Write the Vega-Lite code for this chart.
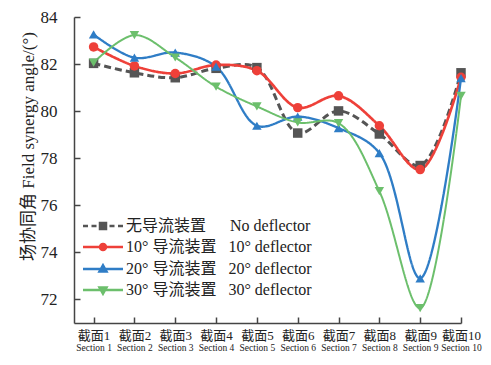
{
  "$schema": "https://vega.github.io/schema/vega-lite/v6.json",
  "width": 387,
  "height": 306,
  "autosize": {"type": "none"},
  "padding": {"left": 74, "top": 17, "right": 30, "bottom": 42},
  "background": "white",
  "config": {"view": {"stroke": null}, "font": "Liberation Serif, Noto Sans CJK SC"},
  "data": {
    "values": [
      {"section": 1, "series": "No deflector", "value": 82.03},
      {"section": 2, "series": "No deflector", "value": 81.63},
      {"section": 3, "series": "No deflector", "value": 81.42},
      {"section": 4, "series": "No deflector", "value": 81.82},
      {"section": 5, "series": "No deflector", "value": 81.85},
      {"section": 6, "series": "No deflector", "value": 79.07},
      {"section": 7, "series": "No deflector", "value": 80.01},
      {"section": 8, "series": "No deflector", "value": 79.03},
      {"section": 9, "series": "No deflector", "value": 77.69},
      {"section": 10, "series": "No deflector", "value": 81.63},
      {"section": 1, "series": "10° deflector", "value": 82.73},
      {"section": 2, "series": "10° deflector", "value": 81.92},
      {"section": 3, "series": "10° deflector", "value": 81.6},
      {"section": 4, "series": "10° deflector", "value": 81.96},
      {"section": 5, "series": "10° deflector", "value": 81.72},
      {"section": 6, "series": "10° deflector", "value": 80.15},
      {"section": 7, "series": "10° deflector", "value": 80.65},
      {"section": 8, "series": "10° deflector", "value": 79.38},
      {"section": 9, "series": "10° deflector", "value": 77.52},
      {"section": 10, "series": "10° deflector", "value": 81.44},
      {"section": 1, "series": "20° deflector", "value": 83.26},
      {"section": 2, "series": "20° deflector", "value": 82.27},
      {"section": 3, "series": "20° deflector", "value": 82.49},
      {"section": 4, "series": "20° deflector", "value": 81.89},
      {"section": 5, "series": "20° deflector", "value": 79.38},
      {"section": 6, "series": "20° deflector", "value": 79.77},
      {"section": 7, "series": "20° deflector", "value": 79.28},
      {"section": 8, "series": "20° deflector", "value": 78.22},
      {"section": 9, "series": "20° deflector", "value": 72.9},
      {"section": 10, "series": "20° deflector", "value": 81.4},
      {"section": 1, "series": "30° deflector", "value": 82.06},
      {"section": 2, "series": "30° deflector", "value": 83.23},
      {"section": 3, "series": "30° deflector", "value": 82.28},
      {"section": 4, "series": "30° deflector", "value": 81.04},
      {"section": 5, "series": "30° deflector", "value": 80.2},
      {"section": 6, "series": "30° deflector", "value": 79.52},
      {"section": 7, "series": "30° deflector", "value": 79.49},
      {"section": 8, "series": "30° deflector", "value": 76.6},
      {"section": 9, "series": "30° deflector", "value": 71.63},
      {"section": 10, "series": "30° deflector", "value": 80.65}
    ]
  },
  "layer": [
    {
      "mark": {"type": "line", "interpolate": "catmull-rom"},
      "encoding": {
        "x": {
          "field": "section", "type": "quantitative",
          "scale": {"domain": [0.52, 10], "nice": false, "zero": false},
          "axis": {
            "orient": "bottom", "values": [1, 2, 3, 4, 5, 6, 7, 8, 9, 10],
            "labelExpr": "'截面' + datum.value",
            "labelFontSize": 13, "labelColor": "#222",
            "tickSize": -6, "tickColor": "#444", "tickWidth": 1.5,
            "domainColor": "#444", "domainWidth": 1.5,
            "labelPadding": 12, "grid": false, "title": null,
            "labelFlush": false, "labelOverlap": false
          }
        },
        "y": {
          "field": "value", "type": "quantitative",
          "scale": {"domain": [71, 84], "nice": false, "zero": false},
          "axis": {
            "values": [72, 74, 76, 78, 80, 82, 84],
            "labelFontSize": 17, "labelColor": "#222",
            "tickSize": -6, "tickColor": "#444", "tickWidth": 1.5,
            "domainColor": "#444", "domainWidth": 1.5,
            "labelPadding": 23, "grid": false,
            "title": "场协同角 Field synergy angle/(°)",
            "titleFontSize": 17, "titleFontWeight": "normal", "titleColor": "#222",
            "titlePadding": 3, "titleY": 129
          }
        },
        "color": {
          "field": "series", "type": "nominal",
          "scale": {"domain": ["No deflector", "10° deflector", "20° deflector", "30° deflector"], "range": ["#555555", "#EE4039", "#2F7DC6", "#6CBF6C"]},
          "legend": null
        },
        "strokeDash": {
          "field": "series", "type": "nominal",
          "scale": {"domain": ["No deflector", "10° deflector", "20° deflector", "30° deflector"], "range": [[7, 4], [1, 0], [1, 0], [1, 0]]},
          "legend": null
        },
        "strokeWidth": {
          "field": "series", "type": "nominal",
          "scale": {"domain": ["No deflector", "10° deflector", "20° deflector", "30° deflector"], "range": [3, 2, 2, 2]},
          "legend": null
        }
      }
    },
    {
      "mark": {"type": "point", "filled": true, "size": 90, "opacity": 1},
      "encoding": {
        "x": {
          "field": "section", "type": "quantitative",
          "axis": {
            "orient": "bottom", "values": [1, 2, 3, 4, 5, 6, 7, 8, 9, 10],
            "labelExpr": "'Section ' + datum.value",
            "labelFontSize": 9.5, "labelColor": "#222",
            "domain": false, "ticks": false, "labelPadding": 19,
            "grid": false, "title": null, "labelFlush": false, "labelOverlap": false
          }
        },
        "y": {"field": "value", "type": "quantitative"},
        "color": {
          "field": "series", "type": "nominal",
          "scale": {"domain": ["No deflector", "10° deflector", "20° deflector", "30° deflector"], "range": ["#555555", "#EE4039", "#2F7DC6", "#6CBF6C"]},
          "legend": null
        },
        "shape": {
          "field": "series", "type": "nominal",
          "scale": {"domain": ["No deflector", "10° deflector", "20° deflector", "30° deflector"], "range": ["square", "circle", "triangle-up", "triangle-down"]},
          "legend": null
        }
      }
    },
    {
      "transform": [{"filter": "datum.section > 100"}],
      "mark": {"type": "point", "filled": true},
      "encoding": {
        "x": {"field": "section", "type": "quantitative", "axis": null},
        "y": {"field": "value", "type": "quantitative"},
        "fill": {
          "field": "series", "type": "nominal",
          "scale": {"domain": ["No deflector", "10° deflector", "20° deflector", "30° deflector"], "range": ["#555555", "#EE4039", "#2F7DC6", "#6CBF6C"]},
          "legend": {
            "orient": "none", "legendX": 21, "legendY": 201, "title": null,
            "padding": 0, "symbolSize": 100, "symbolStrokeWidth": 2.5, "symbolOpacity": 1,
            "labelOffset": 15, "rowPadding": 5, "labelFontSize": 16, "labelColor": "#222",
            "labelLimit": 400,
            "labelExpr": "datum.value == 'No deflector' ? '无导流装置\u00a0\u00a0\u00a0\u00a0\u00a0\u00a0No deflector' : datum.value == '10° deflector' ? '10° 导流装置\u00a0\u00a0\u00a010° deflector' : datum.value == '20° deflector' ? '20° 导流装置\u00a0\u00a0\u00a020° deflector' : '30° 导流装置\u00a0\u00a0\u00a030° deflector'"
          }
        },
        "stroke": {
          "field": "series", "type": "nominal",
          "scale": {"domain": ["No deflector", "10° deflector", "20° deflector", "30° deflector"], "range": ["#555555", "#EE4039", "#2F7DC6", "#6CBF6C"]},
          "legend": {
            "orient": "none", "legendX": 21, "legendY": 201, "title": null,
            "padding": 0, "symbolSize": 100, "symbolStrokeWidth": 2.5, "symbolOpacity": 1,
            "labelOffset": 15, "rowPadding": 5, "labelFontSize": 16, "labelColor": "#222",
            "labelLimit": 400,
            "labelExpr": "datum.value == 'No deflector' ? '无导流装置\u00a0\u00a0\u00a0\u00a0\u00a0\u00a0No deflector' : datum.value == '10° deflector' ? '10° 导流装置\u00a0\u00a0\u00a010° deflector' : datum.value == '20° deflector' ? '20° 导流装置\u00a0\u00a0\u00a020° deflector' : '30° 导流装置\u00a0\u00a0\u00a030° deflector'"
          }
        },
        "shape": {
          "field": "series", "type": "nominal",
          "scale": {
            "domain": ["No deflector", "10° deflector", "20° deflector", "30° deflector"],
            "range": [
              "M-4,0H-3M-2.3,0H-1.3M1.3,0H2.3M3,0H4M-0.6,-0.6H0.6V0.6H-0.6Z",
              "M-4,0H4M-0.6,0A0.6,0.6,0,1,0,0.6,0A0.6,0.6,0,1,0,-0.6,0Z",
              "M-4,0H4M0,-0.75L0.7,0.5L-0.7,0.5Z",
              "M-4,0H4M0,0.75L0.7,-0.5L-0.7,-0.5Z"
            ]
          },
          "legend": {
            "orient": "none", "legendX": 21, "legendY": 201, "title": null,
            "padding": 0, "symbolSize": 100, "symbolStrokeWidth": 2.5, "symbolOpacity": 1,
            "labelOffset": 15, "rowPadding": 5, "labelFontSize": 16, "labelColor": "#222",
            "labelLimit": 400,
            "labelExpr": "datum.value == 'No deflector' ? '无导流装置\u00a0\u00a0\u00a0\u00a0\u00a0\u00a0No deflector' : datum.value == '10° deflector' ? '10° 导流装置\u00a0\u00a0\u00a010° deflector' : datum.value == '20° deflector' ? '20° 导流装置\u00a0\u00a0\u00a020° deflector' : '30° 导流装置\u00a0\u00a0\u00a030° deflector'"
          }
        }
      }
    }
  ],
  "resolve": {"scale": {"shape": "independent", "fill": "independent", "stroke": "independent"}, "axis": {"x": "independent"}}
}
